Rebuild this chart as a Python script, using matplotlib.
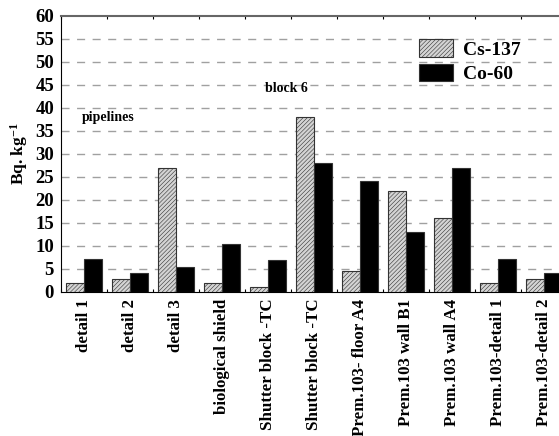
import matplotlib
matplotlib.use("Agg")
import matplotlib.pyplot as plt
import numpy as np

plt.rcParams['font.family'] = ['Liberation Serif', 'DejaVu Serif']
plt.rcParams['font.weight'] = 'bold'
plt.rcParams['mathtext.fontset'] = 'custom'
plt.rcParams['mathtext.rm'] = 'Liberation Serif:bold'
plt.rcParams['mathtext.bf'] = 'Liberation Serif:bold'
plt.rcParams['mathtext.default'] = 'bf'
plt.rcParams['hatch.linewidth'] = 0.4
plt.rcParams['hatch.color'] = '#888888'

categories = ["detail 1", "detail 2", "detail 3", "biological shield",
              "Shutter block -TC", "Shutter block -TC", "Prem.103- floor A4",
              "Prem.103 wall B1", "Prem.103 wall A4", "Prem.103-detail 1",
              "Prem.103-detail 2"]
cs137 = [2.0, 2.7, 27.0, 2.0, 1.0, 38.0, 4.5, 22.0, 16.0, 2.0, 2.7]
co60 = [7.2, 4.0, 5.4, 10.4, 7.0, 28.0, 24.0, 13.0, 27.0, 7.1, 4.0]
yticks = list(range(0, 61, 5))

fig = plt.figure(figsize=(5.59, 4.36), dpi=100)
ax = fig.add_axes([61/559, 144.3/436, 506/559, 275.7/436])

x = np.arange(len(categories))
w = 0.4
ax.bar(x - w/2, cs137, width=w, color='#d4d4d4', edgecolor='#333333',
       linewidth=0.8, hatch='////////', label='Cs-137', zorder=3)
ax.bar(x + w/2, co60, width=w, color='black', edgecolor='#333333',
       linewidth=0.8, label='Co-60', zorder=3)

ax.set_xlim(-0.5, len(categories) - 0.5)
ax.set_ylim(0, 60)
ax.set_yticks(yticks)
ax.set_yticklabels([str(v) for v in yticks], fontsize=13.5, fontweight='bold')
ax.set_xticks(x)
ax.set_xticklabels(categories, rotation=90, fontsize=12.2, fontweight='bold')
ax.tick_params(axis='x', which='major', length=0, pad=5)
ax.set_xticks(np.arange(-0.5, len(categories), 1), minor=True)
ax.tick_params(axis='x', which='minor', length=2, direction='in',
               top=True, bottom=True, width=0.8)
ax.tick_params(axis='y', length=0, pad=5)

for v in yticks[1:-1]:
    ax.axhline(v, color='#a0a0a0', linestyle=(0, (5.8, 5.4)), linewidth=1.0, zorder=1)

ax.spines['top'].set_color('#666666')
ax.spines['top'].set_linewidth(1.5)
ax.spines['right'].set_visible(False)
ax.spines['left'].set_linewidth(0.8)
ax.spines['bottom'].set_linewidth(0.8)

ax.set_ylabel('Bq. kg$^{-1}$', fontsize=12.5, fontweight='bold')
ax.yaxis.set_label_coords(-31/506, 0.5)

ax.text(0.52, 38.0, 'pipelines', fontsize=10, fontweight='bold', ha='center', va='center')
ax.text(4.41, 44.3, 'block 6', fontsize=10, fontweight='bold', ha='center', va='center')

leg = ax.legend(loc='upper left', bbox_to_anchor=(358/506, 0.915), frameon=False,
                fontsize=14, handlelength=1.75, handleheight=1.0,
                labelspacing=0.25, handletextpad=0.5, borderaxespad=0,
                borderpad=0)
for t in leg.get_texts():
    t.set_fontweight('bold')

fig.savefig('out.png', dpi=100)
